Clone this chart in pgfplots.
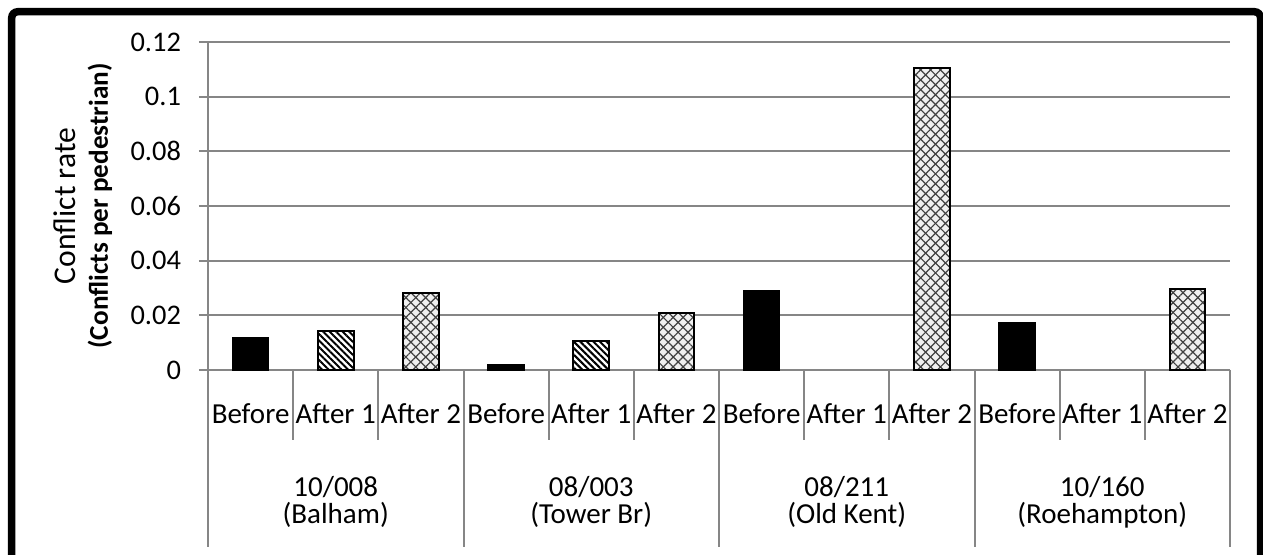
\documentclass[border=0pt]{standalone}
\usepackage{fontspec}
\setmainfont{Carlito}
\usepackage{pgfplots}
\pgfplotsset{compat=1.18}
\usetikzlibrary{patterns,patterns.meta}
\definecolor{gridgray}{RGB}{134,134,134}

\begin{document}
\begin{tikzpicture}[x=1pt,y=1pt]
\useasboundingbox (-104,-92.5) rectangle (527.5,185);
\draw[line width=3.75pt, rounded corners=3pt] (-98.125,-110) -- (-98.125,179.125) -- (526.25,179.125) -- (526.25,-110);
\begin{axis}[
  at={(0,0)}, anchor=south west,
  width=511pt, height=164pt, scale only axis,
  xmin=-0.5, xmax=11.5, ymin=0, ymax=0.12,
  axis x line*=bottom, axis y line*=left,
  axis line style={gridgray, line width=1pt},
  ytick={0,0.02,0.04,0.06,0.08,0.1,0.12},
  yticklabels={0,0.02,0.04,0.06,0.08,0.1,0.12},
  ymajorgrids, grid style={gridgray, line width=1pt},
  y tick style={gridgray, line width=1pt},
  major tick length=4.5pt, tick align=outside,
  yticklabel style={font=\fontsize{14.2}{17}\selectfont, xshift=-5.5pt},
  xtick={0,...,11},
  xticklabels={Before,After 1,After 2,Before,After 1,After 2,Before,After 1,After 2,Before,After 1,After 2},
  x tick style={draw=none},
  xticklabel style={anchor=base, yshift=-22.2pt, font=\fontsize{14.5}{17}\selectfont},
  ybar=0pt, bar width=0.418,
  clip=false,
]
\addplot[bar shift=0, fill=black, draw=black, line width=1pt] coordinates {(0,0.0118) (3,0.0019) (6,0.0288) (9,0.0171)};
\addplot[bar shift=0, draw=black, line width=1pt,
  preaction={fill=white},
  pattern={Lines[angle=-45,distance=2.3pt,line width=1pt]}, pattern color=black] coordinates {(1,0.0141) (4,0.0105)};
\addplot[bar shift=0, draw=black, line width=1pt,
  preaction={fill=gray!12},
  pattern={Lines[angle=45,distance=3.5pt,line width=0.6pt]}, pattern color=black!75,
  postaction={pattern={Lines[angle=-45,distance=3.5pt,line width=0.6pt]}, pattern color=black!75}] coordinates {(2,0.0282) (5,0.0209) (8,0.1105) (11,0.0298)};
\pgfplotsinvokeforeach{0.5,1.5,3.5,4.5,6.5,7.5,9.5,10.5}{
  \draw[gridgray, line width=1pt] (axis cs:#1,0) -- ++(0pt,-35pt);
}
\pgfplotsinvokeforeach{-0.5,2.5,5.5,8.5,11.5}{
  \draw[gridgray, line width=1pt] (axis cs:#1,0) -- ++(0pt,-88.5pt);
}
\node[anchor=base, font=\fontsize{14.5}{17}\selectfont] at ([yshift=-63.5pt]axis cs:1,0) {10/008};
\node[anchor=base, font=\fontsize{14.5}{17}\selectfont] at ([yshift=-77pt]axis cs:1,0) {(Balham)};
\node[anchor=base, font=\fontsize{14.5}{17}\selectfont] at ([yshift=-63.5pt]axis cs:4,0) {08/003};
\node[anchor=base, font=\fontsize{14.5}{17}\selectfont] at ([yshift=-77pt]axis cs:4,0) {(Tower Br)};
\node[anchor=base, font=\fontsize{14.5}{17}\selectfont] at ([yshift=-63.5pt]axis cs:7,0) {08/211};
\node[anchor=base, font=\fontsize{14.5}{17}\selectfont] at ([yshift=-77pt]axis cs:7,0) {(Old Kent)};
\node[anchor=base, font=\fontsize{14.5}{17}\selectfont] at ([yshift=-63.5pt]axis cs:10,0) {10/160};
\node[anchor=base, font=\fontsize{14.5}{17}\selectfont] at ([yshift=-77pt]axis cs:10,0) {(Roehampton)};
\end{axis}
\node[rotate=90, inner sep=0pt, font=\fontsize{15.8}{18}\selectfont] at (-71.5,82) {Conflict rate};
\node[rotate=90, inner sep=0pt, font=\fontsize{13.6}{16}\selectfont\bfseries] at (-54,82) {(Conflicts per pedestrian)};
\end{tikzpicture}
\end{document}
